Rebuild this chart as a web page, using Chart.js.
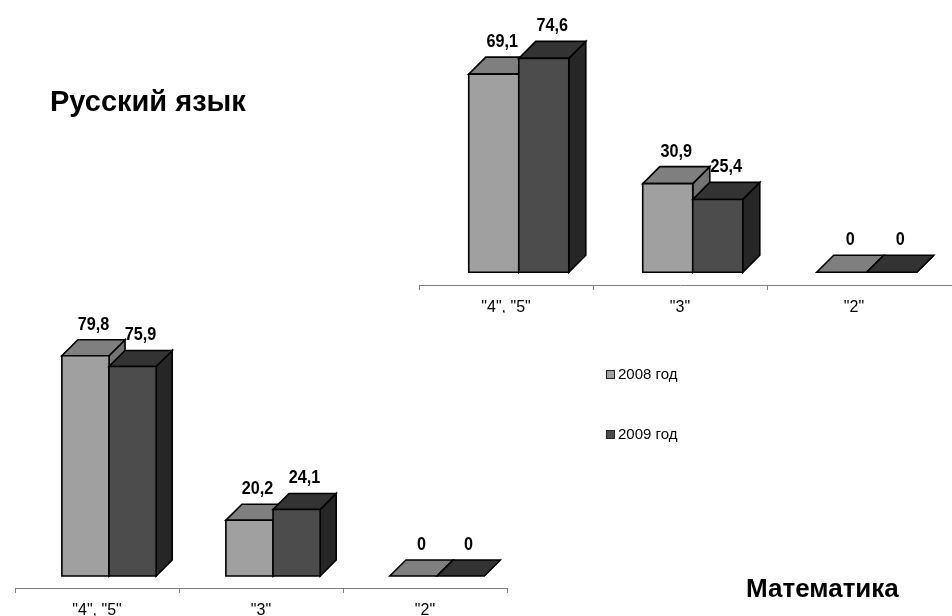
<!DOCTYPE html>
<html>
<head>
<meta charset="utf-8">
<script src="https://cdn.jsdelivr.net/npm/chart.js@4/dist/chart.umd.min.js"></script>
<style>
  html, body { margin: 0; padding: 0; background: #fff; }
  #wrap { position: relative; width: 952px; height: 616px; overflow: hidden; }
  #wrap canvas { position: absolute; left: 0; top: 0; }
  .title { position: absolute; font-family: "Liberation Sans", Arial, sans-serif; font-weight: bold; line-height: 1; color: #000; white-space: nowrap; }
</style>
</head>
<body>
<div id="wrap">
  <canvas id="rus" width="952" height="616"></canvas>
  <canvas id="math" width="952" height="616"></canvas>
  <div class="title" style="left:50px; top:87px; font-size:29px;">Русский язык</div>
  <div class="title" style="left:746px; top:575px; font-size:26px;">Математика</div>
</div>
<script>
// Grade groups and the two school years
const categories = ['"4", "5"', '"3"', '"2"'];
const seriesNames = ['2008 год', '2009 год'];

// Share of pupils per grade group, %
const rusValues2008 = [69.1, 30.9, 0];
const rusValues2009 = [74.6, 25.4, 0];
const mathValues2008 = [79.8, 20.2, 0];
const mathValues2009 = [75.9, 24.1, 0];

// Face shading for each series: front, top, side
const seriesFaces = [
  { front: '#a0a0a0', top: '#7f7f7f', side: '#737373' },
  { front: '#4c4c4c', top: '#333333', side: '#262626' }
];

const AXIS_GREY = '#808080';
const FONT = '"Liberation Sans", Arial, sans-serif';

function fmt(v) {
  return Number.isInteger(v) ? String(v) : v.toFixed(1).replace('.', ',');
}

// Draws every bar as an extruded box and puts its value above the top face
const boxBars = {
  id: 'boxBars',
  beforeDatasetsDraw(chart) {
    const ctx = chart.ctx;
    const n = chart.data.labels.length;
    ctx.save();
    ctx.lineJoin = 'miter';
    for (let i = 0; i < n; i++) {
      chart.data.datasets.forEach((ds, di) => {
        const el = chart.getDatasetMeta(di).data[i];
        const faces = seriesFaces[di];
        const w = el.width;
        const d = w * 0.34;
        const ox = d * 0.75, oy = -d * 0.75;
        const L = el.x - w / 2 + ox, R = el.x + w / 2 + ox;
        const T = el.y + oy, B = el.base + oy;
        ctx.lineWidth = 1.6;
        ctx.strokeStyle = '#000';
        // side
        ctx.beginPath();
        ctx.moveTo(R, B); ctx.lineTo(R, T); ctx.lineTo(R + d, T - d); ctx.lineTo(R + d, B - d); ctx.closePath();
        ctx.fillStyle = faces.side; ctx.fill(); ctx.stroke();
        // top
        ctx.beginPath();
        ctx.moveTo(L, T); ctx.lineTo(R, T); ctx.lineTo(R + d, T - d); ctx.lineTo(L + d, T - d); ctx.closePath();
        ctx.fillStyle = faces.top; ctx.fill(); ctx.stroke();
        // front
        if (B - T > 0.5) {
          ctx.beginPath();
          ctx.rect(L, T, R - L, B - T);
          ctx.fillStyle = faces.front; ctx.fill(); ctx.stroke();
        }
      });
    }
    // value labels
    chart.data.datasets.forEach((ds, di) => {
      chart.getDatasetMeta(di).data.forEach((el, i) => {
        const w = el.width, d = w * 0.34;
        const cx = el.x + d * 0.75 + d / 2;
        const cy = el.y - d * 0.75 - d - 15;
        ctx.save();
        ctx.translate(cx, cy);
        ctx.scale(0.9, 1);
        ctx.font = 'bold 18px ' + FONT;
        ctx.fillStyle = '#000';
        ctx.textAlign = 'center';
        ctx.textBaseline = 'middle';
        ctx.fillText(fmt(ds.data[i]), 0, 0);
        ctx.restore();
      });
    });
    ctx.restore();
    return false;
  }
};

// Continues the category axis line to the right edge of the canvas
const axisRun = {
  id: 'axisRun',
  afterDraw(chart, args, opts) {
    if (!opts.extend) return;
    const ctx = chart.ctx, a = chart.chartArea;
    ctx.save();
    ctx.strokeStyle = AXIS_GREY;
    ctx.lineWidth = 1;
    ctx.beginPath();
    ctx.moveTo(a.right, Math.round(a.bottom) + 0.5);
    ctx.lineTo(chart.width, Math.round(a.bottom) + 0.5);
    ctx.stroke();
    ctx.restore();
  }
};

// Series key drawn as two separate rows
const seriesKey = {
  id: 'seriesKey',
  afterDraw(chart, args, opts) {
    if (!opts.show) return;
    const ctx = chart.ctx;
    ctx.save();
    chart.data.datasets.forEach((ds, di) => {
      const y = opts.y + di * opts.step;
      ctx.fillStyle = seriesFaces[di].front;
      ctx.fillRect(opts.x, y - 4.5, 9, 9);
      ctx.strokeStyle = '#222';
      ctx.lineWidth = 1;
      ctx.strokeRect(opts.x + 0.5, y - 4, 8, 8);
      ctx.fillStyle = '#000';
      ctx.font = '15px ' + FONT;
      ctx.textAlign = 'left';
      ctx.textBaseline = 'middle';
      ctx.fillText(ds.label, opts.x + 12, y + 0.5);
    });
    ctx.restore();
  }
};

function makeChart(id, v2008, v2009, yMax, padding, extendAxis, showKey) {
  return new Chart(document.getElementById(id), {
    type: 'bar',
    data: {
      labels: categories,
      datasets: [
        { label: seriesNames[0], data: v2008, backgroundColor: seriesFaces[0].front },
        { label: seriesNames[1], data: v2009, backgroundColor: seriesFaces[1].front }
      ]
    },
    options: {
      responsive: false,
      animation: false,
      events: [],
      layout: { padding },
      datasets: { bar: { categoryPercentage: 0.575, barPercentage: 1 } },
      plugins: {
        legend: { display: false },
        tooltip: { enabled: false },
        axisRun: { extend: extendAxis },
        seriesKey: { show: showKey, x: 606, y: 374.5, step: 60 }
      },
      scales: {
        x: {
          type: 'category',
          offset: true,
          grid: {
            display: true,
            offset: true,
            drawOnChartArea: false,
            drawTicks: true,
            tickLength: 5,
            color: AXIS_GREY,
            tickColor: (c) => (extendAxis && !c.tick) ? 'rgba(0,0,0,0)' : AXIS_GREY
          },
          border: { display: true, color: AXIS_GREY, width: 1 },
          ticks: { color: '#000', font: { family: FONT, size: 16 }, padding: 8, maxRotation: 0, autoSkip: false },
          afterFit: (s) => { s.height = 28; }
        },
        y: { display: false, min: 0, max: yMax }
      }
    },
    plugins: [boxBars, axisRun, seriesKey]
  });
}

makeChart('rus', rusValues2008, rusValues2009, 90, { left: 419, right: 11, top: 27, bottom: 303 }, true, false);
makeChart('math', mathValues2008, mathValues2009, 100, { left: 15, right: 445, top: 312, bottom: 0 }, false, true);
</script>
</body>
</html>
